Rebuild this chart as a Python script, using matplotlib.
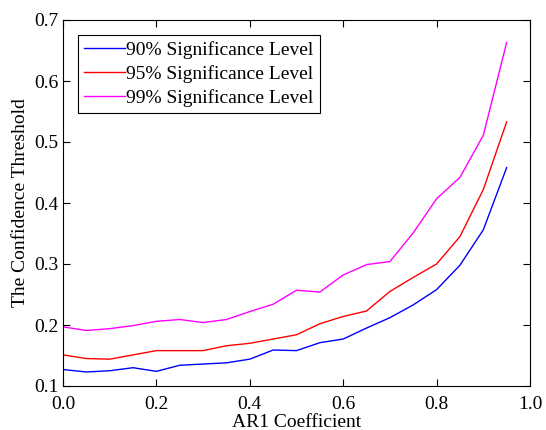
import matplotlib
matplotlib.use('Agg')
import matplotlib.pyplot as plt

plt.rcParams['font.family'] = ['Liberation Serif', 'DejaVu Serif']

ar1 = [0.0, 0.05, 0.1, 0.15, 0.2, 0.25, 0.3, 0.35, 0.4, 0.45,
       0.5, 0.55, 0.6, 0.65, 0.7, 0.75, 0.8, 0.85, 0.9, 0.95]
lvl90 = [0.127, 0.123, 0.125, 0.130, 0.124, 0.134, 0.136, 0.138, 0.144, 0.159,
         0.158, 0.171, 0.177, 0.195, 0.212, 0.233, 0.258, 0.298, 0.356, 0.458]
lvl95 = [0.151, 0.145, 0.144, 0.151, 0.158, 0.158, 0.158, 0.166, 0.170, 0.177,
         0.184, 0.202, 0.214, 0.223, 0.255, 0.278, 0.300, 0.345, 0.422, 0.533]
lvl99 = [0.197, 0.191, 0.194, 0.199, 0.206, 0.209, 0.204, 0.209, 0.222, 0.234,
         0.257, 0.254, 0.282, 0.299, 0.304, 0.351, 0.407, 0.442, 0.511, 0.663]

fig = plt.figure(figsize=(5.46, 4.30), dpi=100)
ax = fig.add_axes([63 / 546, 1 - 386 / 430, (530 - 63) / 546, (386 - 20) / 430])

ax.plot(ar1, lvl90, color='#0000ff', linewidth=1.0, label='90% Significance Level')
ax.plot(ar1, lvl95, color='#ff0000', linewidth=1.0, label='95% Significance Level')
ax.plot(ar1, lvl99, color='#ff00ff', linewidth=1.0, label='99% Significance Level')

ax.set_xlim(0, 1)
ax.set_ylim(0.1, 0.7)
ax.set_xticks([0, 0.2, 0.4, 0.6, 0.8, 1.0])
ax.set_xticklabels(['0.0', '0.2', '0.4', '0.6', '0.8', '1.0'])
ax.set_yticks([0.1, 0.2, 0.3, 0.4, 0.5, 0.6, 0.7])
ax.tick_params(direction='in', top=True, right=True, labelsize=14, length=5)
ax.tick_params(axis='x', pad=7)
ax.tick_params(axis='y', pad=3)
for s in ax.spines.values():
    s.set_linewidth(0.8)
ax.set_xlabel('AR1 Coefficient', fontsize=14, labelpad=1)
ax.set_ylabel('The Confidence Threshold', fontsize=14, labelpad=4)

leg = ax.legend(loc='upper left', fontsize=14, fancybox=False, framealpha=1,
                edgecolor='k', handlelength=2.1, handletextpad=0.05,
                borderpad=0.35, borderaxespad=0.75, labelspacing=0.3)
leg.get_frame().set_linewidth(0.8)

fig.savefig('out.png', dpi=100)
